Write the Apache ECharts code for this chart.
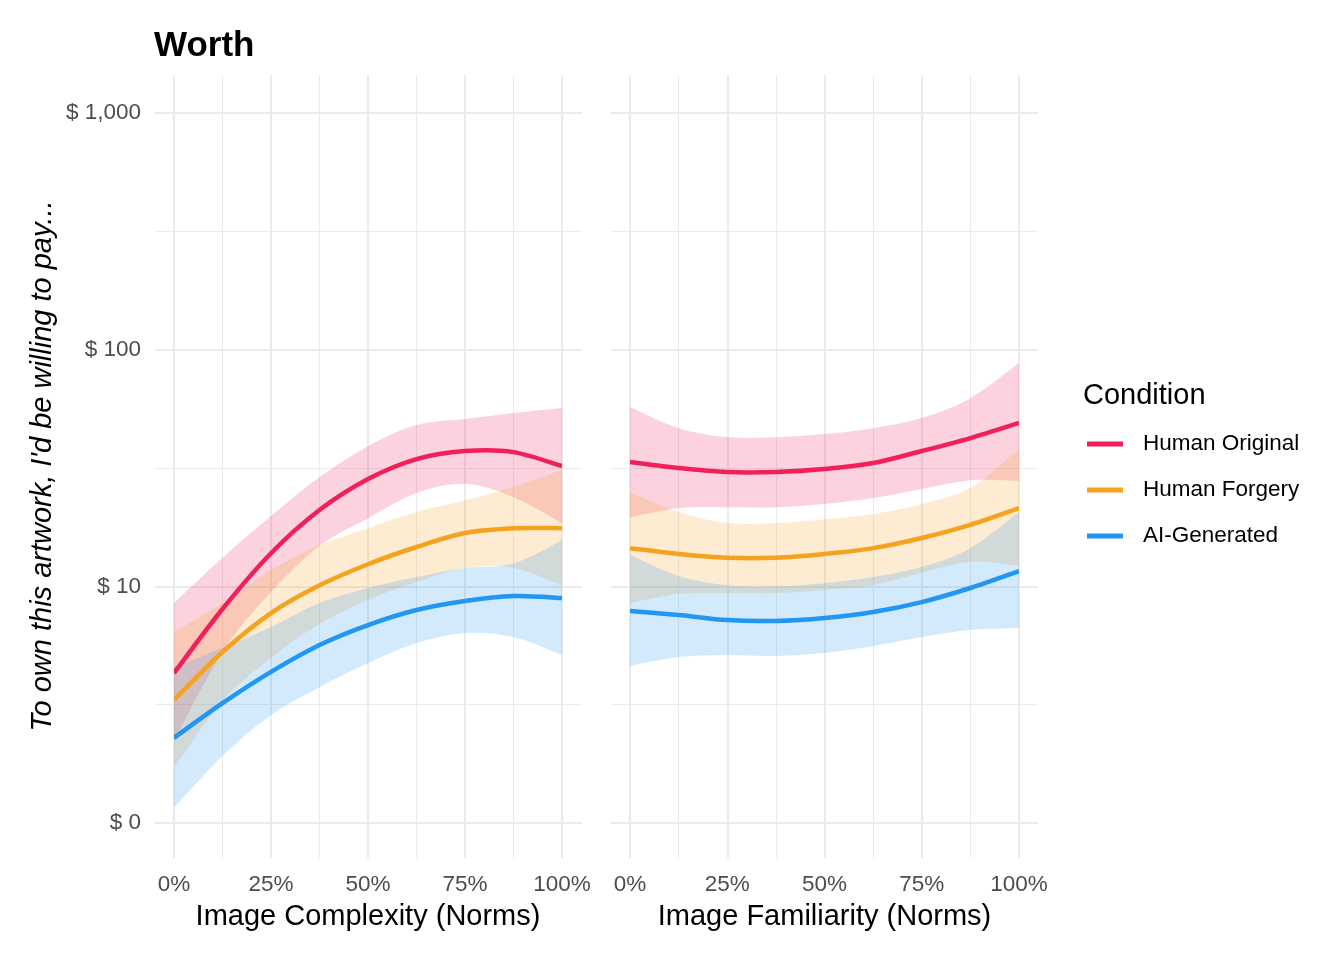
<!DOCTYPE html>
<html>
<head>
<meta charset="utf-8">
<script src="https://cdn.jsdelivr.net/npm/echarts@6/dist/echarts.min.js"></script>
<style>
html,body{margin:0;padding:0;background:#fff;}
#chart{width:1344px;height:960px;}
</style>
</head>
<body>
<div id="chart"></div>
<script>
// ---- data (values in dollars) ----
const pct = [0, 12.5, 25, 37.5, 50, 62.5, 75, 87.5, 100];
const conditions = ['Human Original', 'Human Forgery', 'AI-Generated'];
const colors = ['#F2205A', '#F5A21F', '#2196F3'];
const yTicks = [0, 1, 2, 3];
const yTickLabels = ['$ 0', '$ 10', '$ 100', '$ 1,000'];
const xTitles = ['Image Complexity (Norms)', 'Image Familiarity (Norms)'];

// Image Complexity panel
const cxOrigFit = [4.3, 8.02, 13.8, 21.0, 28.4, 34.5, 37.3, 36.9, 32.2];
const cxOrigLo  = [2.22, 5.28, 9.46, 14.8, 19.4, 24.8, 27.1, 23.8, 18.5];
const cxOrigHi  = [8.5, 13.2, 19.8, 28.9, 39.1, 48.0, 50.9, 54.0, 56.7];
const cxForgFit = [3.31, 5.28, 7.71, 10.1, 12.4, 14.66, 16.8, 17.6, 17.6];
const cxForgLo  = [1.71, 3.28, 4.98, 6.93, 8.75, 10.4, 11.95, 11.95, 10.1];
const cxForgHi  = [6.41, 8.5, 11.7, 14.9, 17.6, 20.6, 23.1, 26.3, 31.0];
const cxAiFit   = [2.29, 3.21, 4.35, 5.65, 6.86, 7.94, 8.67, 9.1, 8.92];
const cxAiLo    = [1.16, 1.92, 2.86, 3.75, 4.74, 5.76, 6.35, 6.11, 5.13];
const cxAiHi    = [4.56, 5.49, 6.73, 8.5, 9.84, 10.95, 11.95, 12.5, 15.7];

// Image Familiarity panel
const fmOrigFit = [33.5, 31.6, 30.4, 30.4, 31.3, 33.2, 37.3, 42.3, 49.0];
const fmOrigLo  = [19.6, 21.4, 21.6, 21.6, 22.3, 23.6, 25.8, 28.1, 27.9];
const fmOrigHi  = [57.2, 46.6, 42.7, 42.7, 44.0, 46.6, 51.4, 62.4, 87.8];
const fmForgFit = [14.5, 13.7, 13.2, 13.2, 13.7, 14.5, 16.0, 18.2, 21.4];
const fmForgLo  = [8.5, 9.28, 9.37, 9.37, 9.65, 10.1, 11.4, 12.7, 12.2];
const fmForgHi  = [25.0, 20.6, 18.5, 18.5, 19.2, 20.2, 22.3, 26.0, 38.0];
const fmAiFit   = [7.87, 7.57, 7.2, 7.14, 7.35, 7.79, 8.58, 9.84, 11.6];
const fmAiLo    = [4.61, 5.03, 5.13, 5.08, 5.23, 5.59, 6.11, 6.54, 6.67];
const fmAiHi    = [13.6, 11.05, 10.1, 10.0, 10.3, 10.95, 12.1, 14.5, 20.6];

const panels = [
  { fit: [cxOrigFit, cxForgFit, cxAiFit], lo: [cxOrigLo, cxForgLo, cxAiLo], hi: [cxOrigHi, cxForgHi, cxAiHi] },
  { fit: [fmOrigFit, fmForgFit, fmAiFit], lo: [fmOrigLo, fmForgLo, fmAiLo], hi: [fmOrigHi, fmForgHi, fmAiHi] }
];

// ---- layout ----
const FONT = '"Liberation Sans", Arial, sans-serif';
const panelLeft = [155, 611];
const dataLeft = [174, 630];
const dataWidth = [388, 389];
const panelWidth = 427;
const GRID = '#EBEBEB';
const TICK_FS = 22.5;

const grids = [], xAxes = [], yAxes = [], series = [];
const lg = v => Math.log10(v);

// smooth path (Catmull-Rom -> cubic Bezier) through pixel points from api.coord
function curveTo(pts, start) {
  let d = (start ? 'M' : 'L') + pts[0][0] + ',' + pts[0][1];
  for (let i = 0; i < pts.length - 1; i++) {
    const p0 = pts[Math.max(i - 1, 0)], p1 = pts[i], p2 = pts[i + 1], p3 = pts[Math.min(i + 2, pts.length - 1)];
    const c1 = [p1[0] + (p2[0] - p0[0]) / 6, p1[1] + (p2[1] - p0[1]) / 6];
    const c2 = [p2[0] - (p3[0] - p1[0]) / 6, p2[1] - (p3[1] - p1[1]) / 6];
    d += 'C' + c1[0] + ',' + c1[1] + ',' + c2[0] + ',' + c2[1] + ',' + p2[0] + ',' + p2[1];
  }
  return d;
}

panels.forEach((p, pi) => {
  const base = grids.length;
  // H grid: horizontal gridlines across the whole panel width
  grids.push({ left: panelLeft[pi], width: panelWidth, top: 113, height: 710 });
  xAxes.push({ gridIndex: base, type: 'value', min: 0, max: 1, show: false });
  yAxes.push({
    gridIndex: base, type: 'value', min: 0, max: 3, interval: 1,
    axisLine: { show: false }, axisTick: { show: false },
    minorTick: { show: false, splitNumber: 2 },
    splitLine: { show: true, lineStyle: { color: GRID, width: 2 } },
    minorSplitLine: { show: true, lineStyle: { color: GRID, width: 1 } },
    axisLabel: {
      show: pi === 0, margin: 14, fontFamily: FONT, fontSize: TICK_FS, color: '#4D4D4D',
      padding: [9, 0, 0, 0],
      formatter: v => { const i = yTicks.indexOf(Math.round(v)); return i >= 0 ? yTickLabels[i] : ''; }
    }
  });
  // V grid: vertical gridlines across the whole panel height, x labels
  grids.push({ left: dataLeft[pi], width: dataWidth[pi], top: 75, height: 783 });
  xAxes.push({
    gridIndex: base + 1, type: 'value', min: 0, max: 100, interval: 25,
    axisLine: { show: false }, axisTick: { show: false },
    minorTick: { show: false, splitNumber: 2 },
    splitLine: { show: true, lineStyle: { color: GRID, width: 2 } },
    minorSplitLine: { show: true, lineStyle: { color: GRID, width: 1 } },
    axisLabel: { margin: 15, fontFamily: FONT, fontSize: TICK_FS, color: '#4D4D4D', lineHeight: 24,
      formatter: v => v + '%' }
  });
  yAxes.push({ gridIndex: base + 1, type: 'value', min: 0, max: 1, show: false, splitLine: { show: false } });
  // D grid: data area
  grids.push({ left: dataLeft[pi], width: dataWidth[pi], top: 113, height: 710 });
  xAxes.push({ gridIndex: base + 2, type: 'value', min: 0, max: 100, show: false, splitLine: { show: false } });
  yAxes.push({ gridIndex: base + 2, type: 'value', min: 0, max: 3, show: false, splitLine: { show: false } });

  const di = base + 2;
  // confidence bands
  series.push({
    type: 'custom', coordinateSystem: 'cartesian2d', xAxisIndex: di, yAxisIndex: di,
    silent: true, z: 2, clip: true,
    data: conditions.map((c, k) => [k, 0]),
    renderItem: (params, api) => {
      const k = params.dataIndex;
      const up = pct.map((x, i) => api.coord([x, lg(p.hi[k][i])]));
      const dn = pct.map((x, i) => api.coord([x, lg(p.lo[k][i])])).reverse();
      return {
        type: 'path',
        shape: { pathData: curveTo(up, true) + curveTo(dn, false) + 'Z' },
        style: { fill: colors[k], opacity: 0.2, stroke: null }
      };
    }
  });
  // fitted lines
  conditions.forEach((c, k) => {
    series.push({
      name: c, type: 'custom', coordinateSystem: 'cartesian2d', xAxisIndex: di, yAxisIndex: di,
      silent: true, z: 5, clip: true,
      itemStyle: { color: colors[k] },
      data: [[0, 0]],
      renderItem: (params, api) => {
        const pts = pct.map((x, i) => api.coord([x, lg(p.fit[k][i])]));
        return {
          type: 'path',
          shape: { pathData: curveTo(pts, true) },
          style: { fill: null, stroke: colors[k], lineWidth: 4.5 }
        };
      }
    });
  });
});

const graphic = [
  { type: 'text', x: 154, y: 46, style: { text: 'Worth', font: 'bold 35px ' + FONT, fill: '#000', textAlign: 'left', textVerticalAlign: 'middle' } },
  { type: 'text', x: 43, y: 466, rotation: Math.PI / 2,
    style: { text: "To own this artwork, I'd be willing to pay...", font: 'italic 29px ' + FONT, fill: '#000', textAlign: 'center', textVerticalAlign: 'middle' } },
  { type: 'text', x: 368, y: 917, style: { text: xTitles[0], font: '29px ' + FONT, fill: '#000', textAlign: 'center', textVerticalAlign: 'middle' } },
  { type: 'text', x: 824.5, y: 917, style: { text: xTitles[1], font: '29px ' + FONT, fill: '#000', textAlign: 'center', textVerticalAlign: 'middle' } },
  { type: 'text', x: 1083, y: 396, style: { text: 'Condition', font: '29px ' + FONT, fill: '#000', textAlign: 'left', textVerticalAlign: 'middle' } }
];

const chart = echarts.init(document.getElementById('chart'), null, { renderer: 'canvas' });
chart.setOption({
  animation: false,
  backgroundColor: '#fff',
  grid: grids,
  xAxis: xAxes,
  yAxis: yAxes,
  legend: {
    orient: 'vertical', left: 1087, top: 432, padding: 0,
    itemWidth: 36, itemHeight: 5, itemGap: 22,
    data: conditions.map((c, k) => ({ name: c, icon: 'rect', itemStyle: { color: colors[k] } })),
    textStyle: { fontFamily: FONT, fontSize: TICK_FS, color: '#000', lineHeight: 24, padding: [0, 0, 0, 15] },
    selectedMode: false
  },
  graphic: graphic,
  series: series
});
</script>
</body>
</html>
